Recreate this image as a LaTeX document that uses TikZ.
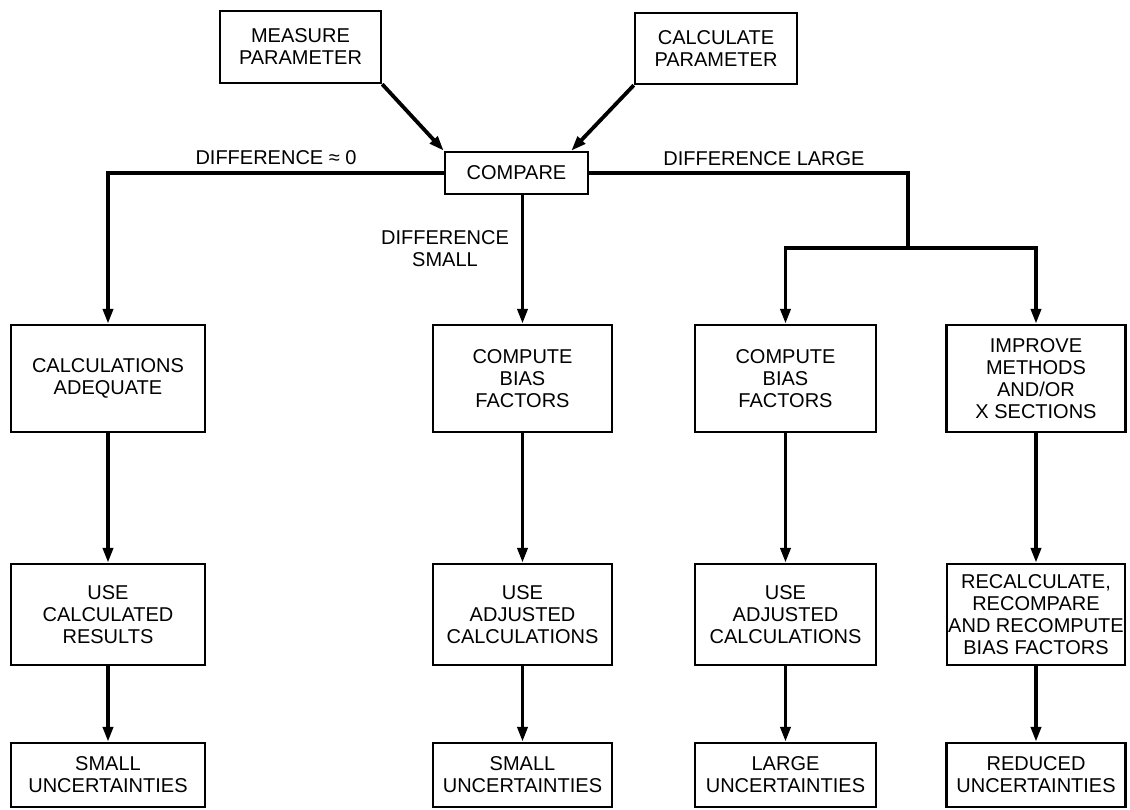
\documentclass[tikz,border=0pt]{standalone}
\usepackage{fontspec}
\setmainfont{Liberation Sans}
\usetikzlibrary{arrows.meta}
\begin{document}
\begin{tikzpicture}[x=1pt,y=-1pt,
  box/.style={draw, line width=2.4pt, align=center, inner sep=0pt, font=\fontsize{20}{22}\selectfont},
  lbl/.style={align=center, inner sep=0pt, font=\fontsize{20}{22}\selectfont},
  conn/.style={line width=3.8pt},
  arr/.style={conn, -{Triangle[length=15pt,width=10pt]}},
  rtwo/.style={box, minimum height=107pt},
  rthree/.style={box, minimum height=101pt},
  rfour/.style={box, minimum height=64pt}
]
\fill[white] (0,0) rectangle (1130,809);
\useasboundingbox (0,0) rectangle (1130,809);

% top
\node[box, minimum width=161pt, minimum height=72pt] (meas) at (300.5,47) {MEASURE\\PARAMETER};
\node[box, minimum width=162pt, minimum height=71pt] (calc) at (716,48.5) {CALCULATE\\PARAMETER};
\node[box, minimum width=143pt, minimum height=42pt] (comp) at (516.5,173) {COMPARE};

% row 2
\node[rtwo, minimum width=194pt] (adeq) at (108,378.5) {CALCULATIONS\\ADEQUATE};
\node[rtwo, minimum width=179pt] (biasa) at (522.5,378.5) {COMPUTE\\BIAS\\FACTORS};
\node[rtwo, minimum width=181pt] (biasb) at (785.5,378.5) {COMPUTE\\BIAS\\FACTORS};
\node[rtwo, minimum width=179pt] (impr) at (1036,378.5) {IMPROVE\\METHODS\\AND/OR\\X SECTIONS};

% row 3
\node[rthree, minimum width=194pt] (usec) at (108,614.5) {USE\\CALCULATED\\RESULTS};
\node[rthree, minimum width=179pt] (adja) at (522.5,614.5) {USE\\ADJUSTED\\CALCULATIONS};
\node[rthree, minimum width=181pt] (adjb) at (785.5,614.5) {USE\\ADJUSTED\\CALCULATIONS};
\node[rthree, minimum width=178pt] (recalc) at (1036,614.5) {RECALCULATE,\\RECOMPARE\\AND RECOMPUTE\\BIAS FACTORS};

% row 4
\node[rfour, minimum width=194pt] (smalla) at (108,775) {SMALL\\UNCERTAINTIES};
\node[rfour, minimum width=179pt] (smallb) at (522.5,775) {SMALL\\UNCERTAINTIES};
\node[rfour, minimum width=181pt] (large) at (785.5,775) {LARGE\\UNCERTAINTIES};
\node[rfour, minimum width=179pt] (reduced) at (1036,775) {REDUCED\\UNCERTAINTIES};

% labels
\node[lbl] (dzero) at (276,158) {DIFFERENCE ≈ 0};
\node[lbl] (dlarge) at (764,159) {DIFFERENCE LARGE};
\node[lbl] (dsmall) at (445,249) {DIFFERENCE\\SMALL};

% connectors
\coordinate (br) at (908,248);
\draw[arr] (meas.south east) -- (comp.north west);
\draw[arr] (calc.south west) -- ([xshift=-18pt]comp.north east);
\draw[arr] (comp.west) -| (adeq.north);
\draw[arr] (biasa.north |- comp.south) -- (biasa.north);
\draw[conn] (comp.east) -| (br);
\draw[arr] (br) -| (biasb.north);
\draw[arr] (br) -| (impr.north);

\draw[arr] (adeq) -- (usec);
\draw[arr] (usec) -- (smalla);
\draw[arr] (biasa) -- (adja);
\draw[arr] (adja) -- (smallb);
\draw[arr] (biasb) -- (adjb);
\draw[arr] (adjb) -- (large);
\draw[arr] (impr) -- (recalc);
\draw[arr] (recalc) -- (reduced);
\end{tikzpicture}
\end{document}
